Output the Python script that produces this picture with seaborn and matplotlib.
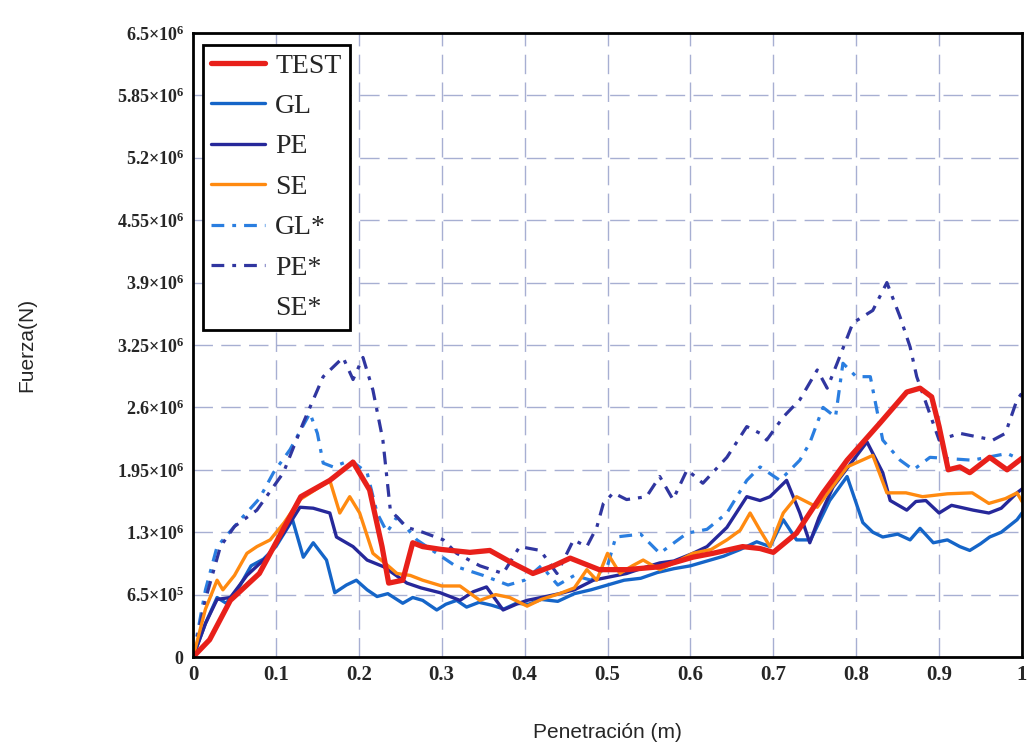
import matplotlib
matplotlib.use("Agg")
import matplotlib.pyplot as plt
import seaborn as sns
import pandas as pd
from matplotlib.lines import Line2D

# ---------------- data (force in 1e6 N, penetration in m) ----------------
test_x = [0, 0.02, 0.045, 0.08, 0.13, 0.165, 0.193, 0.213, 0.228, 0.236, 0.253, 0.265, 0.277, 0.30, 0.334,
          0.358, 0.385, 0.41, 0.435, 0.455, 0.49, 0.523, 0.563, 0.603, 0.627, 0.663, 0.684, 0.70, 0.728,
          0.76, 0.789, 0.829, 0.861, 0.877, 0.891, 0.90, 0.911, 0.925, 0.937, 0.961, 0.982, 1.0]
test_y = [0, 0.18, 0.59, 0.87, 1.67, 1.84, 2.03, 1.74, 1.15, 0.77, 0.80, 1.19, 1.15, 1.12, 1.09,
          1.11, 0.98, 0.87, 0.95, 1.03, 0.91, 0.91, 0.94, 1.04, 1.08, 1.15, 1.13, 1.09, 1.29,
          1.71, 2.05, 2.44, 2.76, 2.80, 2.71, 2.40, 1.95, 1.98, 1.92, 2.08, 1.95, 2.07]

gl_x = [0, 0.015, 0.029, 0.04, 0.055, 0.07, 0.085, 0.10, 0.12, 0.133, 0.145, 0.153, 0.161, 0.171, 0.185,
        0.197, 0.21, 0.222, 0.235, 0.253, 0.265, 0.277, 0.294, 0.305, 0.318, 0.33, 0.345, 0.36, 0.375,
        0.39, 0.405, 0.42, 0.44, 0.46, 0.48, 0.50, 0.52, 0.54, 0.56, 0.58, 0.60, 0.62, 0.64, 0.66, 0.68,
        0.696, 0.712, 0.728, 0.745, 0.768, 0.789, 0.808, 0.82, 0.832, 0.85, 0.865, 0.877, 0.893, 0.91,
        0.925, 0.937, 0.95, 0.961, 0.975, 0.994, 1.0]
gl_y = [0, 0.35, 0.62, 0.56, 0.72, 0.95, 1.02, 1.15, 1.43, 1.04, 1.19, 1.10, 1.01, 0.67, 0.75,
        0.80, 0.70, 0.63, 0.66, 0.56, 0.62, 0.59, 0.49, 0.55, 0.59, 0.52, 0.57, 0.54, 0.50,
        0.56, 0.55, 0.60, 0.58, 0.66, 0.70, 0.75, 0.80, 0.82, 0.88, 0.92, 0.95, 1.0, 1.05, 1.12, 1.20,
        1.15, 1.43, 1.22, 1.22, 1.63, 1.88, 1.40, 1.30, 1.25, 1.28, 1.22, 1.34, 1.19, 1.22,
        1.15, 1.11, 1.18, 1.25, 1.30, 1.43, 1.50]

pe_x = [0, 0.015, 0.029, 0.045, 0.065, 0.09, 0.11, 0.129, 0.145, 0.165, 0.173, 0.193, 0.21, 0.23, 0.245,
        0.258, 0.275, 0.298, 0.322, 0.338, 0.354, 0.374, 0.39, 0.403, 0.42, 0.442, 0.46, 0.483, 0.50,
        0.523, 0.54, 0.563, 0.58, 0.603, 0.62, 0.644, 0.668, 0.684, 0.696, 0.716, 0.732, 0.744, 0.755,
        0.772, 0.792, 0.813, 0.832, 0.841, 0.861, 0.872, 0.884, 0.90, 0.915, 0.941, 0.96, 0.975, 0.994, 1.0]
pe_y = [0, 0.35, 0.60, 0.62, 0.85, 1.05, 1.30, 1.56, 1.55, 1.50, 1.25, 1.15, 1.01, 0.94, 0.85,
        0.77, 0.72, 0.67, 0.59, 0.68, 0.73, 0.49, 0.55, 0.59, 0.62, 0.66, 0.70, 0.80, 0.83,
        0.87, 0.92, 0.98, 1.00, 1.08, 1.15, 1.35, 1.67, 1.63, 1.67, 1.84, 1.50, 1.19, 1.45,
        1.77, 2.0, 2.24, 1.92, 1.63, 1.53, 1.62, 1.63, 1.50, 1.58, 1.53, 1.50, 1.55, 1.71, 1.75]

se_x = [0, 0.015, 0.029, 0.036, 0.05, 0.065, 0.077, 0.093, 0.11, 0.129, 0.165, 0.177, 0.189, 0.201, 0.217,
        0.234, 0.246, 0.262, 0.277, 0.30, 0.322, 0.346, 0.365, 0.382, 0.403, 0.42, 0.442, 0.46, 0.475,
        0.487, 0.50, 0.515, 0.53, 0.543, 0.563, 0.585, 0.603, 0.625, 0.644, 0.66, 0.672, 0.684, 0.696,
        0.712, 0.728, 0.753, 0.789, 0.82, 0.837, 0.86, 0.88, 0.91, 0.94, 0.96, 0.98, 0.994, 1.0]
se_y = [0, 0.5, 0.80, 0.70, 0.85, 1.08, 1.15, 1.22, 1.40, 1.64, 1.84, 1.50, 1.67, 1.50, 1.08,
        0.96, 0.87, 0.85, 0.80, 0.74, 0.74, 0.59, 0.65, 0.62, 0.53, 0.60, 0.66, 0.72, 0.91,
        0.80, 1.08, 0.87, 0.95, 1.01, 0.91, 1.00, 1.08, 1.12, 1.22, 1.32, 1.50, 1.32, 1.15,
        1.50, 1.67, 1.56, 1.98, 2.10, 1.71, 1.71, 1.67, 1.70, 1.71, 1.60, 1.65, 1.71, 1.62]

gls_x = [0, 0.015, 0.029, 0.057, 0.08, 0.097, 0.117, 0.141, 0.15, 0.157, 0.169, 0.19, 0.21, 0.222, 0.234,
         0.246, 0.27, 0.294, 0.318, 0.35, 0.38, 0.40, 0.42, 0.44, 0.46, 0.48, 0.50, 0.51, 0.54, 0.563,
         0.596, 0.62, 0.644, 0.668, 0.684, 0.708, 0.732, 0.744, 0.76, 0.775, 0.784, 0.80, 0.817, 0.825,
         0.832, 0.853, 0.869, 0.889, 0.94, 0.982, 1.0]
gls_y = [0, 0.7, 1.15, 1.43, 1.65, 1.92, 2.16, 2.54, 2.33, 2.02, 1.98, 2.05, 1.92, 1.50, 1.30,
         1.46, 1.22, 1.08, 0.94, 0.85, 0.75, 0.80, 0.95, 0.75, 0.85, 0.80, 0.95, 1.25, 1.28, 1.08,
         1.29, 1.33, 1.50, 1.84, 1.98, 1.84, 2.05, 2.23, 2.60, 2.50, 3.06, 2.92, 2.92, 2.57,
         2.26, 2.05, 1.95, 2.08, 2.05, 2.12, 2.05]

pes_x = [0, 0.015, 0.033, 0.05, 0.077, 0.109, 0.133, 0.157, 0.181, 0.193, 0.205, 0.217, 0.229, 0.238,
         0.258, 0.277, 0.302, 0.318, 0.346, 0.374, 0.394, 0.419, 0.439, 0.459, 0.475, 0.487, 0.495,
         0.507, 0.523, 0.547, 0.563, 0.579, 0.596, 0.615, 0.644, 0.668, 0.684, 0.692, 0.712, 0.732,
         0.753, 0.765, 0.777, 0.796, 0.82, 0.837, 0.853, 0.865, 0.873, 0.90, 0.925, 0.965, 0.98, 0.994, 1.0]
pes_y = [0, 0.6, 1.15, 1.36, 1.53, 1.92, 2.44, 2.92, 3.12, 2.89, 3.12, 2.78, 2.26, 1.53,
         1.35, 1.30, 1.22, 1.08, 0.95, 0.87, 1.15, 1.11, 0.87, 1.22, 1.15, 1.35, 1.60,
         1.71, 1.64, 1.67, 1.88, 1.64, 1.95, 1.81, 2.08, 2.40, 2.33, 2.26, 2.50, 2.68,
         2.99, 2.80, 3.06, 3.48, 3.61, 3.90, 3.54, 3.23, 2.92, 2.26, 2.33, 2.26, 2.33, 2.68, 2.75]

series_names = ["TEST", "GL", "PE", "SE", "GL*", "PE*", "SE*"]
x_ticks = [0, 0.1, 0.2, 0.3, 0.4, 0.5, 0.6, 0.7, 0.8, 0.9, 1.0]
x_tick_labels = ["0", "0.1", "0.2", "0.3", "0.4", "0.5", "0.6", "0.7", "0.8", "0.9", "1"]
y_ticks = [0, 0.65, 1.3, 1.95, 2.6, 3.25, 3.9, 4.55, 5.2, 5.85, 6.5]
y_tick_mant = ["0", "6.5", "1.3", "1.95", "2.6", "3.25", "3.9", "4.55", "5.2", "5.85", "6.5"]
y_tick_exp = ["", "5", "6", "6", "6", "6", "6", "6", "6", "6", "6"]

# ---------------- style ----------------
sns.set_theme(style="white")
plt.rcParams["font.family"] = ["Liberation Serif", "DejaVu Serif"]
plt.rcParams["mathtext.fontset"] = "custom"
plt.rcParams["mathtext.rm"] = "Liberation Serif"
plt.rcParams["mathtext.bf"] = "Liberation Serif:bold"

fig = plt.figure(figsize=(10.29, 7.49), dpi=100)
ax = fig.add_axes([0.1876, 0.1228, 0.8056, 0.8332])

dashdot = (0, (4, 2.5, 1.2, 2.5))
styles = {
    "TEST": dict(color="#e8201a", lw=3.8, ls="-"),
    "GL":   dict(color="#1565c8", lw=2.4, ls="-"),
    "PE":   dict(color="#26289a", lw=2.4, ls="-"),
    "SE":   dict(color="#ff8a10", lw=2.4, ls="-"),
    "GL*":  dict(color="#2a7ee0", lw=2.3, ls=dashdot),
    "PE*":  dict(color="#3036a0", lw=2.3, ls=dashdot),
}
data = {
    "TEST": (test_x, test_y), "GL": (gl_x, gl_y), "PE": (pe_x, pe_y), "SE": (se_x, se_y),
    "GL*": (gls_x, gls_y), "PE*": (pes_x, pes_y),
}
order = ["GL*", "PE*", "GL", "PE", "SE", "TEST"]
for name in order:
    xs, ys = data[name]
    df = pd.DataFrame({"x": xs, "y": ys})
    st = styles[name]
    sns.lineplot(data=df, x="x", y="y", ax=ax, sort=False, estimator=None,
                 color=st["color"], linewidth=st["lw"], linestyle=st["ls"], legend=False)

ax.set_xlim(0, 1)
ax.set_ylim(0, 6.5)
ax.set_xticks(x_ticks)
ax.set_xticklabels(x_tick_labels, fontsize=15, fontweight="bold")
ax.set_yticks(y_ticks)
ylabels = []
for m, e in zip(y_tick_mant, y_tick_exp):
    if e:
        ylabels.append(r"$\mathbf{" + m + r"{\times}10^{" + e + r"}}$")
    else:
        ylabels.append(r"$\mathbf{" + m + r"}$")
ax.set_yticklabels(ylabels, fontsize=13)
ax.tick_params(axis="both", length=0, pad=6)

ax.grid(True, color="#8a94c4", linestyle=(0, (14, 6)), linewidth=1.0, alpha=0.75)
ax.set_axisbelow(True)
for sp in ax.spines.values():
    sp.set_color("black")
    sp.set_linewidth(2.0)

ax.set_xlabel("Penetración (m)", fontsize=15, family="Liberation Sans", labelpad=27)
ax.set_ylabel("Fuerza(N)", fontsize=15, family="Liberation Sans", labelpad=58)

handles = []
for name in series_names:
    if name in styles:
        st = styles[name]
        handles.append(Line2D([], [], color=st["color"], lw=st["lw"], linestyle=st["ls"]))
    else:
        handles.append(Line2D([], [], color="none", lw=2))
leg = ax.legend(handles, series_names, loc="upper left", bbox_to_anchor=(0.012, 0.981),
                borderaxespad=0, frameon=True, fancybox=False,
                handlelength=1.95, handletextpad=0.35, labelspacing=0.54, borderpad=0.3,
                prop={"family": "Liberation Serif", "size": 20})
leg.get_frame().set_edgecolor("black")
leg.get_frame().set_linewidth(2.0)
leg.get_frame().set_alpha(1)

fig.savefig("out.png", dpi=100)
